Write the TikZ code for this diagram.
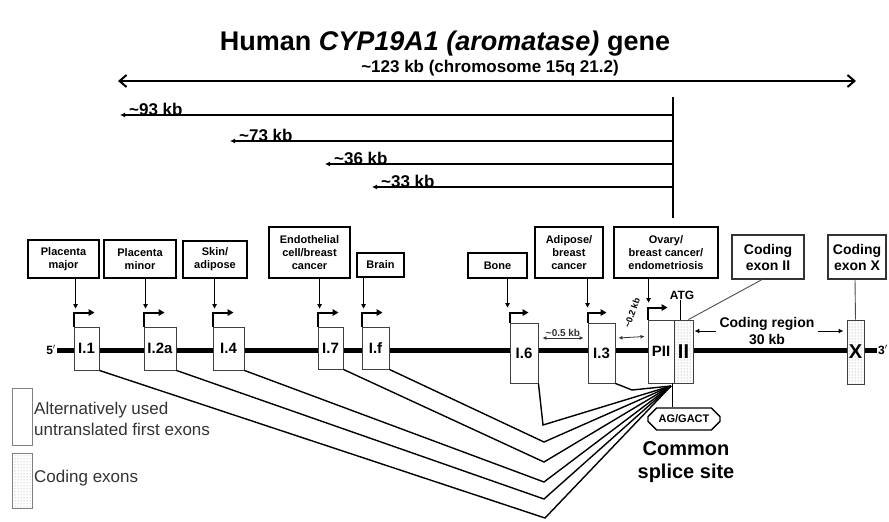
\documentclass[tikz,border=0pt]{standalone}
\usepackage{fontspec}
\setmainfont{Liberation Sans}
\usetikzlibrary{arrows.meta,positioning,calc,shapes.misc,patterns}
\tikzset{
  tissuebox/.style={draw=black, line width=1.3pt, fill=white, align=center,
    minimum width=#1, font=\fontsize{11}{13}\selectfont\bfseries, inner sep=1pt},
  tissuebox/.default=70,
  codebox/.style={draw=black!80, line width=1.1pt, fill=white, align=center,
    minimum width=#1, minimum height=44, font=\fontsize{14}{16}\selectfont\bfseries, inner sep=1pt},
  utrexon/.style={draw=black!75, line width=0.9pt, fill=white,
    font=\fontsize{15}{15}\selectfont\bfseries, inner sep=0pt},
  codexon/.style={draw=black!75, line width=0.9pt, preaction={fill=white},
    pattern=dots, pattern color=black!45,
    font=\fontsize{20}{20}\selectfont\bfseries, inner sep=0pt},
  promarr/.style={-{Triangle[length=6pt, width=6.5pt]}, line width=2pt},
  tisarr/.style={-{Triangle[length=4.5pt, width=4.5pt]}, line width=0.9pt},
  kbarr/.style={-{Latex[length=5pt, width=5pt]}, line width=2pt},
  kblabel/.style={font=\fontsize{17}{17}\selectfont\bfseries, inner sep=1pt},
  gaparr/.style={{Latex[length=4pt, width=4pt]}-{Latex[length=4pt, width=4pt]}, line width=0.8pt, black!80},
  thinarr/.style={-{Latex[length=5pt, width=5pt]}, line width=1pt},
  splice/.style={line width=1.4pt, line join=miter},
  % ---- leyenda ----
  legbox/.style={draw=black!50, line width=1pt, minimum width=20, inner sep=0pt},
  legtext/.style={font=\fontsize{17}{21}\selectfont, text=black!80, align=left, inner sep=1pt},
}

\begin{document}
\begin{tikzpicture}[x=1pt, y=-1pt]
  \useasboundingbox (0,0) rectangle (889,522);

  \node[font=\fontsize{27}{27}\selectfont\bfseries] (title) at (445,44)
    {Human \textit{CYP19A1 (aromatase)} gene};

  % distancias
  \coordinate (cL) at (118,81);
  \coordinate (cR) at (856,81);
  \draw[{Straight Barb[length=7pt, width=12pt]}-{Straight Barb[length=7pt, width=12pt]}, line width=2pt] (cL) -- (cR);
  \node[kblabel] (l123) at (490,68) {\textasciitilde123 kb (chromosome 15q 21.2)};

  \coordinate (vtop) at (673,97);
  \coordinate (vbot) at (673,218);
  \draw[line width=1.6pt] (vtop) -- (vbot);

  \coordinate (d93) at (120,115);
  \coordinate (d73) at (230,141);
  \coordinate (d36) at (325,164);
  \coordinate (d33) at (372,187);
  \draw[kbarr] (d93 -| vtop) -- (d93);
  \draw[kbarr] (d73 -| vtop) -- (d73);
  \draw[kbarr] (d36 -| vtop) -- (d36);
  \draw[kbarr] (d33 -| vtop) -- (d33);
  \node[kblabel, anchor=south west] (l93) at (128,117) {\textasciitilde93 kb};
  \node[kblabel, anchor=south west] (l73) at (238,143) {\textasciitilde73 kb};
  \node[kblabel, anchor=south west] (l36) at (333,166) {\textasciitilde36 kb};
  \node[kblabel, anchor=south west] (l33) at (380,189) {\textasciitilde33 kb};

  % gen
  \coordinate (five) at (57,350);
  \coordinate (three) at (877,350);
  \draw[line width=5pt] (five) -- (three);
  \node[font=\fontsize{12}{12}\selectfont\bfseries, anchor=east, inner sep=1pt] (p5) at (five) {5$'$};
  \node[font=\fontsize{12}{12}\selectfont\bfseries, anchor=west, inner sep=1pt] (p3) at (three) {3$'$};

  \node[utrexon, minimum width=25, minimum height=43] (e11) at (86.5,348.5) {I.1};
  \node[utrexon, minimum width=32, minimum height=43] (e12a) at (160,348.5) {I.2a};
  \node[utrexon, minimum width=31, minimum height=43] (e14) at (228.5,348.5) {I.4};
  \node[utrexon, minimum width=25, minimum height=42] (e17) at (330.5,348) {I.7};
  \node[utrexon, minimum width=27, minimum height=42] (e1f) at (375.5,348) {I.f};
  \node[utrexon, minimum width=28, minimum height=60] (e16) at (524,353) {I.6};
  \node[utrexon, minimum width=27, minimum height=60] (e13) at (601.5,353) {I.3};
  \node[utrexon, minimum width=26, minimum height=63] (ePII) at (661,351.5) {PII};
  \node[codexon, minimum width=19, minimum height=63] (e2) at (683.5,351.5) {II};
  \node[codexon, minimum width=17, minimum height=64] (eX) at (855.5,352) {X};

  % promotores
  \draw[promarr] (e11.north west) -- ++(0,-14) -- ++(21,0);
  \draw[promarr] (e12a.north west) -- ++(0,-14) -- ++(21,0);
  \draw[promarr] (e14.north west) -- ++(0,-14) -- ++(21,0);
  \draw[promarr] (e17.north west) -- ++(0,-14) -- ++(21,0);
  \draw[promarr] (e1f.north west) -- ++(0,-14) -- ++(21,0);
  \draw[promarr] (e16.north west) -- ++(0,-10) -- ++(19,0);
  \draw[promarr] (e13.north west) -- ++(0,-10) -- ++(19,0);
  \draw[promarr] (ePII.north west) -- ++(0,-12) -- ++(20,0);

  % tejidos
  \node[tissuebox=71, minimum height=38] (pmaj) at (63.5,259) {Placenta\\major};
  \node[tissuebox=72, minimum height=38] (pmin) at (140,259) {Placenta\\minor};
  \node[tissuebox=64, minimum height=37] (skin) at (215,259.5) {Skin/\\adipose};
  \node[tissuebox=81, minimum height=51] (endo) at (309.5,252.5) {Endothelial\\cell/breast\\cancer};
  \node[tissuebox=47, minimum height=24] (brain) at (380.5,265) {Brain};
  \node[tissuebox=59, minimum height=25] (bone) at (497.5,265.5) {Bone};
  \node[tissuebox=68, minimum height=51] (adip) at (569,252.5) {Adipose/\\breast\\cancer};
  \node[tissuebox=104, minimum height=51] (ovary) at (666,252.5) {Ovary/\\breast cancer/\\endometriosis};
  \node[codebox=72] (cex2) at (768,257) {Coding\\exon II};
  \node[codebox=58] (cexX) at (857,257) {Coding\\exon X};

  \draw[tisarr] ([xshift=2pt]e11.north west |- pmaj.south) -- ([xshift=2pt, yshift=18pt]e11.north west);
  \draw[tisarr] ([xshift=2pt]e12a.north west |- pmin.south) -- ([xshift=2pt, yshift=18pt]e12a.north west);
  \draw[tisarr] ([xshift=2pt]e14.north west |- skin.south) -- ([xshift=2pt, yshift=18pt]e14.north west);
  \draw[tisarr] ([xshift=2pt]e17.north west |- endo.south) -- ([xshift=2pt, yshift=18pt]e17.north west);
  \draw[tisarr] ([xshift=2pt]e1f.north west |- brain.south) -- ([xshift=2pt, yshift=18pt]e1f.north west);
  \draw[tisarr] ([xshift=-2pt]e16.north west |- bone.south) -- ([xshift=-2pt, yshift=15pt]e16.north west);
  \draw[tisarr] ([xshift=0pt]e13.north west |- adip.south) -- ([xshift=0pt, yshift=15pt]e13.north west);
  \draw[tisarr] ([xshift=1pt]ePII.north west |- ovary.south) -- ([xshift=1pt, yshift=17pt]ePII.north west);
  \draw[line width=0.9pt, black!70] ([xshift=-6pt]cex2.south) -- ([xshift=-5pt]e2.north east);
  \draw[line width=0.9pt, black!70] ([xshift=-2pt]cexX.south) -- (eX.north);

  % ATG y distancias cortas
  \node[font=\fontsize{12}{12}\selectfont\bfseries, inner sep=1pt] (atg) at (682,295) {ATG};
  \draw[line width=1pt] ([xshift=-2pt]atg.south) -- ([xshift=-2pt]atg.south |- e2.north);
  \draw[gaparr] ([xshift=4pt, yshift=15pt]e16.east) -- ([xshift=-4pt, yshift=15pt]e13.west)
    node[midway, above=0pt, font=\fontsize{10}{10}\selectfont\bfseries, inner sep=1pt] (k05) {\textasciitilde0.5 kb};
  \draw[gaparr] ([xshift=3pt, yshift=15pt]e13.east) -- ([xshift=-3pt, yshift=15pt]ePII.west);
  \node[font=\fontsize{9}{9}\selectfont\bfseries, rotate=70, inner sep=1pt] (k02) at (632,313) {\textasciitilde0.2 kb};

  \node[font=\fontsize{14}{17}\selectfont\bfseries, align=center, inner sep=1pt] (creg) at (767,331) {Coding region\\30 kb};
  \draw[thinarr, shorten >=3pt] ([xshift=-2pt]creg.west) -- ([xshift=-2pt]creg.west -| e2.east);
  \draw[thinarr, shorten >=3pt] ([xshift=2pt]creg.east) -- (creg.east -| eX.west);

  % sitio de empalme
  \coordinate (spl) at (671,386);
  \coordinate (v11) at (545,518);
  \coordinate (v12a) at (544,499);
  \coordinate (v14) at (544,482);
  \coordinate (v17) at (544,462);
  \coordinate (v1f) at (544,442);
  \coordinate (v16) at (543,425);
  \coordinate (v13) at (632,390);
  \draw[splice] (e11.south east) -- (v11) -- (spl);
  \draw[splice] (e12a.south east) -- (v12a) -- (spl);
  \draw[splice] (e14.south east) -- (v14) -- (spl);
  \draw[splice] (e17.south east) -- (v17) -- (spl);
  \draw[splice] (e1f.south east) -- (v1f) -- (spl);
  \draw[splice] (e16.south east) -- (v16) -- (spl);
  \draw[splice] (e13.south east) -- (v13) -- (spl);

  \node[chamfered rectangle, chamfered rectangle xsep=6pt, draw, line width=1.3pt,
    minimum width=72, minimum height=22, inner sep=1pt,
    font=\fontsize{11}{11}\selectfont\bfseries] (agbox) at (684,419) {AG/GACT};
  \draw[line width=1.3pt] ([xshift=-1pt]e2.south west) -- ([xshift=-1pt]agbox.north -| e2.south west);
  \node[font=\fontsize{20}{23}\selectfont\bfseries, align=center, inner sep=1pt] (common) at (686,462) {Common\\splice site};

  % leyenda
  \node[legbox, minimum height=57] (lgu) at (22,416.5) {};
  \node[legbox, minimum height=55, preaction={fill=white}, pattern=dots, pattern color=black!40] (lgc) at (22,480.5) {};
  \node[legtext, anchor=west] (lgut) at (33,419) {Alternatively used\\untranslated first exons};
  \node[legtext, anchor=west] (lgct) at (33,478) {Coding exons};
\end{tikzpicture}
\end{document}
